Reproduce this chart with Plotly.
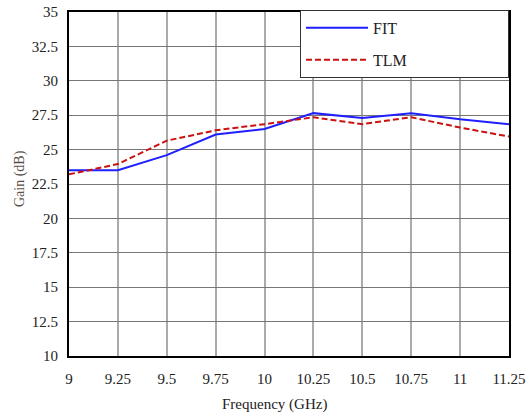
import plotly.graph_objects as go

freq = [9, 9.25, 9.5, 9.75, 10, 10.25, 10.5, 10.75, 11, 11.25]
fit_gain = [23.5, 23.5, 24.6, 26.1, 26.5, 27.65, 27.3, 27.65, 27.2, 26.85]
tlm_gain = [23.2, 23.95, 25.65, 26.4, 26.85, 27.35, 26.85, 27.35, 26.6, 25.95]
x_ticks = [9, 9.25, 9.5, 9.75, 10, 10.25, 10.5, 10.75, 11, 11.25]
x_tick_labels = ["9", "9.25", "9.5", "9.75", "10", "10.25", "10.5", "10.75", "11", "11.25"]
y_ticks = [10, 12.5, 15, 17.5, 20, 22.5, 25, 27.5, 30, 32.5, 35]
y_tick_labels = ["10", "12.5", "15", "17.5", "20", "22.5", "25", "27.5", "30", "32.5", "35"]

SERIF = "Liberation Serif, Times New Roman, serif"
pad = "\u00a0" * 24

fig = go.Figure()
fig.add_trace(go.Scatter(x=freq, y=fit_gain, mode="lines", name="FIT" + pad,
                         legendgroup="a",
                         line=dict(color="#1f1fff", width=2)))
fig.add_trace(go.Scatter(x=freq, y=tlm_gain, mode="lines", name="TLM" + pad,
                         legendgroup="b",
                         line=dict(color="#cc1111", width=2, dash="6px,3px")))

fig.update_layout(
    width=532, height=417,
    margin=dict(l=69, r=23, t=10, b=61),
    paper_bgcolor="white", plot_bgcolor="white",
    font=dict(family=SERIF, size=15, color="#222"),
    showlegend=True,
    legend=dict(x=1, xanchor="right", y=1.006, yanchor="top",
                bgcolor="white", bordercolor="#333", borderwidth=1,
                font=dict(family=SERIF, size=16, color="#222"),
                itemwidth=62, tracegroupgap=8),
    xaxis=dict(range=[9, 11.25], tickvals=x_ticks, ticktext=x_tick_labels,
               showgrid=True, gridcolor="#aaaaaa", gridwidth=1.5,
               showline=True, linecolor="black", linewidth=2, mirror=True,
               ticks="", ticklabelstandoff=8, zeroline=False, automargin=False),
    yaxis=dict(range=[10, 35], tickvals=y_ticks, ticktext=y_tick_labels,
               showgrid=True, gridcolor="#777777", gridwidth=1,
               showline=True, linecolor="black", linewidth=2, mirror=True,
               ticks="", ticklabelstandoff=6, zeroline=False, automargin=False),
    annotations=[
        dict(text="Frequency (GHz)", xref="paper", yref="paper",
             x=(274 - 69) / 440, y=-(405 - 356) / 346, xanchor="center", yanchor="middle",
             showarrow=False, font=dict(family=SERIF, size=15, color="#222")),
        dict(text="Gain (dB)", xref="paper", yref="paper", textangle=-90,
             x=(20 - 69) / 440, y=(356 - 178) / 346, xanchor="center", yanchor="middle",
             showarrow=False, font=dict(family=SERIF, size=14, color="#5a5048")),
    ],
)

fig.write_html("out.html", config={"displayModeBar": False},
               post_script="document.body.style.margin='0px';document.body.style.overflow='hidden';")
